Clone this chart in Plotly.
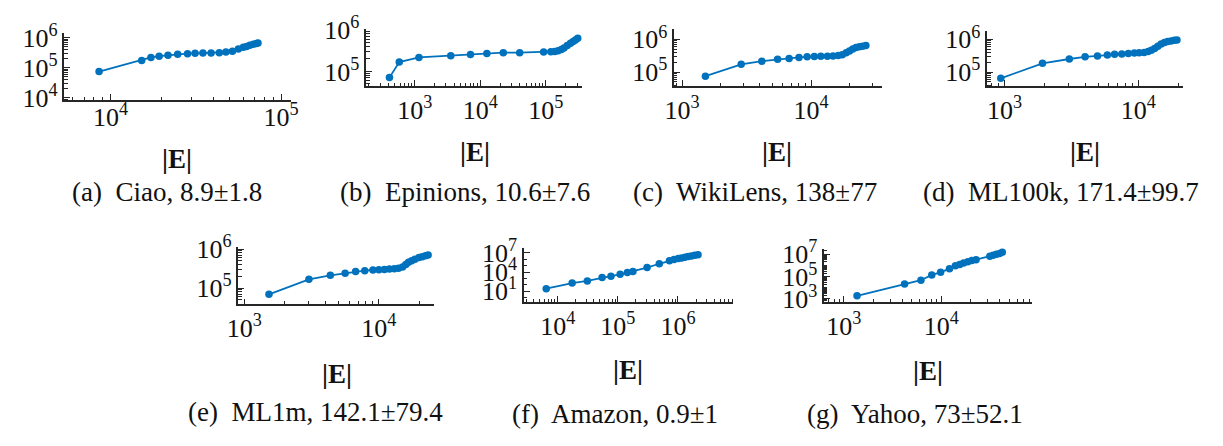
import math
import plotly.graph_objects as go

# ---- data: number of edges |E| (x) and the measured count (y) per dataset ----
ciao_E = [8570, 15240, 17260, 19280, 21730, 24770, 28310, 31330, 34830, 38900,
          43450, 47530, 51880, 56230, 60120, 62810, 65610, 68710, 71780, 73280]
ciao_Y = [74800, 174600, 222300, 244900, 263600, 283800, 297900, 304800, 312600, 312600,
          319900, 335700, 361400, 428500, 483100, 520000, 572800, 615200, 647100, 679200]

epinions_E = [412, 582, 1161, 3548, 7079, 12590, 22390, 39810, 92260, 118900,
              136500, 153100, 171800, 188400, 211300, 237100, 260000, 281800, 305500]
epinions_Y = [70800, 168300, 217800, 237700, 254700, 268500, 282500, 282500, 292400, 297800,
              302700, 313300, 335700, 366400, 420700, 475300, 527200, 574100, 626600]

wikilens_E = [1516, 2871, 4150, 5500, 6755, 8056, 9320, 10600, 11900, 13390,
              14800, 16250, 17450, 18720, 19860, 21040, 22330, 23680, 25070, 26610]
wikilens_Y = [75200, 173000, 215300, 245500, 262400, 280500, 293100, 299200, 306200, 306200,
              312600, 319900, 341200, 389000, 444600, 507000, 564900, 590200, 616600, 645700]

ml100k_E = [935, 1919, 3048, 4000, 4955, 5875, 6653, 7534, 8433, 9354, 10160,
            11070, 11860, 12530, 13270, 14030, 14860, 15740, 16630, 17620, 18620, 19500]
ml100k_Y = [64600, 184900, 251200, 293100, 312600, 334200, 349100, 356500, 372400, 381100, 389000,
            398100, 425600, 464500, 529700, 616600, 719400, 803500, 857000, 895400, 935400, 957100]

ml1m_E = [1524, 3020, 4355, 5610, 6714, 7852, 9036, 10000, 10990, 11970, 13030,
          14000, 15000, 15850, 16600, 17540, 18540, 19860, 20990, 22180, 23230]
ml1m_Y = [69200, 167500, 212800, 242100, 265500, 280500, 291100, 296500, 302000, 307600, 313300,
          325100, 349900, 405500, 461300, 505800, 554600, 608100, 642700, 679200, 704700]

amazon_E = [6440, 17380, 31050, 54700, 76740, 109100, 143900, 178200, 306200, 488700,
            721100, 859000, 1012000, 1148000, 1303000, 1476000, 1675000, 1901000, 2153000]
amazon_Y = [24, 182, 407, 1380, 2190, 4270, 8510, 11750, 50100, 195000,
            589000, 933000, 1318000, 1622000, 2042000, 2630000, 3236000, 4074000, 5129000]

yahoo_E = [1365, 4198, 6180, 7980, 9840, 12130, 13960, 15450, 16940, 18750,
           20560, 22750, 31480, 34040, 36810, 39720, 42270]
yahoo_Y = [1905, 21380, 46770, 138000, 234400, 501200, 891300, 1202000, 1585000, 2042000,
           2630000, 3162000, 6457000, 7762000, 9550000, 11480000, 14790000]

captions = ["(a)  Ciao, 8.9±1.8", "(b)  Epinions, 10.6±7.6", "(c)  WikiLens, 138±77",
            "(d)  ML100k, 171.4±99.7", "(e)  ML1m, 142.1±79.4", "(f)  Amazon, 0.9±1",
            "(g)  Yahoo, 73±52.1"]
x_label = "|E|"

# ---- page geometry (pixels) ----
W, H = 1223, 446
BLUE = "#0072BD"
AXC = "#262626"
FONT = "Liberation Serif"

panels = [
    dict(E=ciao_E, Y=ciao_Y, box=(53.3, 283.3, 18.3, 90), xr=(3.73, 5.058), yr=(3.92, 6.16),
         xt=[4, 5], yt=[4, 5, 6], ym="digits", lab=(168, 153), cap=(157, 188), xoff=-7),
    dict(E=epinions_E, Y=epinions_Y, box=(360, 579, 14, 75), xr=(2.264, 5.55), yr=(4.645, 6.02),
         xt=[3, 4, 5], yt=[5, 6], ym="digits", lab=(470, 145), cap=(460, 188), xoff=0),
    dict(E=wikilens_E, Y=wikilens_Y, box=(672.7, 884, 14, 75), xr=(2.939, 4.552), yr=(4.571, 6.314),
         xt=[3, 4], yt=[5, 6], ym="digits", lab=(777, 145), cap=(755, 188), xoff=0),
    dict(E=ml100k_E, Y=ml100k_Y, box=(990.7, 1189.3, 16, 75), xr=(2.87, 4.334), yr=(4.571, 6.257),
         xt=[3, 4], yt=[5, 6], ym="digits", lab=(1090, 145), cap=(1066, 188), xoff=0),
    dict(E=ml1m_E, Y=ml1m_Y, box=(230, 428.3, 247.3, 308.3), xr=(2.956, 4.407), yr=(4.584, 6.05),
         xt=[3, 4], yt=[5, 6], ym="digits", lab=(330, 383), cap=(308, 424), xoff=0),
    dict(E=amazon_E, Y=amazon_Y, box=(520, 732.7, 247.7, 306), xr=(3.438, 6.92), yr=(-0.71, 7.82),
         xt=[4, 5, 6], yt=[1, 4, 7], ym="decades", lab=(626, 379), cap=(613, 426), xoff=0),
    dict(E=yahoo_E, Y=yahoo_Y, box=(825, 1036, 249, 306), xr=(2.798, 4.93), yr=(2.72, 7.47),
         xt=[3, 4], yt=[3, 5, 7], ym="both", lab=(930, 380), cap=(917, 426), xoff=0),
]


def minor_ticks(lo, hi, major, mode):
    vals = []
    for k in range(math.floor(lo) - 1, math.ceil(hi) + 1):
        if mode in ("decades", "both") and k not in major and lo <= k <= hi:
            vals.append(10.0 ** k)
        if mode in ("digits", "both"):
            for m in range(2, 10):
                v = m * 10.0 ** k
                if lo <= math.log10(v) <= hi:
                    vals.append(v)
    return vals


def axis_style(rng, major, minor_mode, domain, anchor, standoff=0):
    return dict(
        type="log", domain=domain, range=list(rng), anchor=anchor,
        showline=True, linecolor=AXC, linewidth=1.5, mirror=False,
        showgrid=False, zeroline=False,
        ticks="inside", ticklen=6, tickwidth=1.3, tickcolor=AXC,
        tickmode="array", tickvals=[10.0 ** k for k in major],
        ticktext=[f"10<sup>{k}</sup>" for k in major],
        tickfont=dict(family=FONT, size=26, color="#111111"),
        ticklabelstandoff=standoff,
        minor=dict(ticks="inside", ticklen=3.5, tickwidth=1.1, tickcolor=AXC,
                   tickmode="array", tickvals=minor_ticks(rng[0], rng[1], major, minor_mode),
                   showgrid=False),
    )


fig = go.Figure()
layout = dict(width=W, height=H, margin=dict(l=0, r=0, t=0, b=0),
              paper_bgcolor="white", plot_bgcolor="white", showlegend=False)
annotations = []

for i, p in enumerate(panels, start=1):
    x0, x1, yt, yb = p["box"]
    xd = [x0 / W, x1 / W]
    yd = [1 - yb / H, 1 - yt / H]
    xa = "xaxis" if i == 1 else f"xaxis{i}"
    ya = "yaxis" if i == 1 else f"yaxis{i}"
    xref = "x" if i == 1 else f"x{i}"
    yref = "y" if i == 1 else f"y{i}"
    layout[xa] = axis_style(p["xr"], p["xt"], "digits", xd, yref, p["xoff"])
    layout[ya] = axis_style(p["yr"], p["yt"], p["ym"], yd, xref)
    fig.add_trace(go.Scatter(
        x=p["E"], y=p["Y"], mode="lines+markers", xaxis=xref, yaxis=yref,
        line=dict(color=BLUE, width=1.8),
        marker=dict(color=BLUE, size=7.5, line=dict(width=0)),
        cliponaxis=False,
    ))
    lx, ly = p["lab"]
    annotations.append(dict(text=f"<b>{x_label}</b>", x=lx / W, y=1 - ly / H,
                            xref="paper", yref="paper", showarrow=False,
                            xanchor="center", yanchor="middle",
                            font=dict(family=FONT, size=27, color="#111111")))
    cx, cy = p["cap"]
    annotations.append(dict(text=captions[i - 1], x=cx / W, y=1 - cy / H,
                            xref="paper", yref="paper", showarrow=False,
                            xanchor="center", yanchor="middle",
                            font=dict(family=FONT, size=27, color="#111111")))

layout["annotations"] = annotations
fig.update_layout(**layout)
fig.write_html("out.html")
